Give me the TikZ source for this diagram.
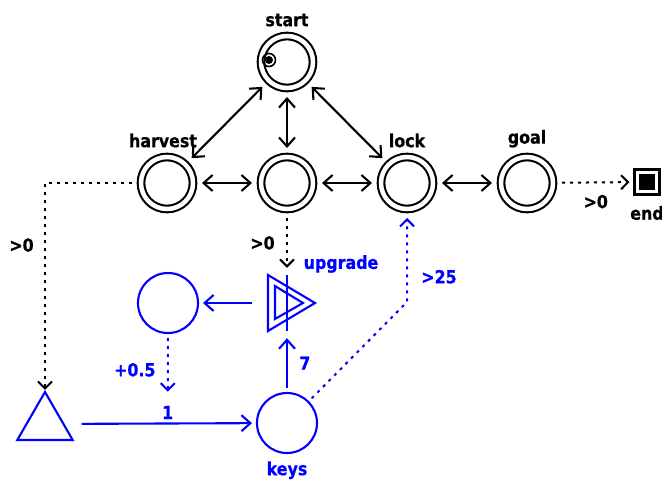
\documentclass[tikz,border=0pt]{standalone}
\usepackage{fontspec}
\setmainfont{DejaVu Sans}[FakeStretch=0.88, BoldFeatures={FakeBold=0.6}]
\usetikzlibrary{arrows.meta,shapes.geometric}

\tikzset{
  stnode/.style={circle, draw, double, double distance=4.5pt, line width=2.1pt,
    minimum size=52pt, inner sep=0pt, outer sep=9pt},
  pool/.style={circle, draw=blue, line width=2.1pt, minimum size=60pt,
    inner sep=0pt, outer sep=5pt},
  link/.style={line width=2.1pt,
    {Straight Barb[length=9pt,width=16pt]}-{Straight Barb[length=9pt,width=16pt]}},
  flow/.style={line width=2.1pt, -{Straight Barb[length=9pt,width=16pt]}},
  trig/.style={line width=2pt, dash pattern=on 3pt off 5pt,
    -{Straight Barb[length=7pt,width=14pt]}}
}

\begin{document}
\begin{tikzpicture}[x=1pt, y=-1pt, font=\bfseries\fontsize{18}{21}\selectfont,
    label distance=-3pt]
  \useasboundingbox (0,0) rectangle (662,482);

  % Estados
  \node[stnode, label={above:start}] (start) at (287,62) {};
  \node[stnode, label={[xshift=-4pt]above:harvest}] (harvest) at (167,183) {};
  \node[stnode] (mid) at (287,183) {};
  \node[stnode, label={above:lock}] (lock) at (407,183) {};
  \node[stnode, label={above:goal}] (goal) at (527,183) {};

  % Marca de inicio
  \draw[line width=1.6pt] ([shift={(-18,-2)}]start.center) circle[radius=6.5pt];
  \fill ([shift={(-18,-2)}]start.center) circle[radius=4pt];

  % Final
  \node[draw, line width=2.1pt, minimum size=25pt, inner sep=0pt, outer sep=5pt,
    label={[label distance=3pt]below:end}] (end) at (647,182) {};
  \node[fill, minimum size=16pt, inner sep=0pt] (endcore) at (end) {};

  % Conexiones entre estados
  \draw[link] (start) -- (harvest);
  \draw[link] (start) -- (mid);
  \draw[link] (start) -- (lock);
  \draw[link] (harvest) -- (mid);
  \draw[link] (mid) -- (lock);
  \draw[link] (lock) -- (goal);
  \draw[trig] (goal) -- node[below=8pt] (gtend) {>0} (end);

  % Recursos
  \node[pool] (bank) at (168,303) {};
  \node[pool, label={[blue, label distance=0pt]below:keys}] (keys) at (287,423) {};
  \node[regular polygon, regular polygon sides=3, draw=blue, line width=2.1pt,
    minimum size=64pt, inner sep=0pt] (src) at (45,424) {};

  % Convertidor
  \node[circle, minimum size=70pt, inner sep=0pt] (upg) at (287,303) {};
  \draw[blue, line width=2.1pt] ([shift={(-19,-28)}]upg.center)
    -- ([shift={(28,0)}]upg.center) -- ([shift={(-19,28)}]upg.center) -- cycle;
  \draw[blue, line width=2.1pt] ([shift={(-12,-17)}]upg.center)
    -- ([shift={(16,0)}]upg.center) -- ([shift={(-12,16)}]upg.center) -- cycle;
  \draw[blue, line width=2.1pt] ([shift={(0,-28)}]upg.center)
    -- ([shift={(0,28)}]upg.center);
  \node[blue] (upglbl) at (341,264) {upgrade};

  % Flujos
  \draw[flow, blue, shorten <=17pt] (src) -- node[pos=0.55, above] (rate) {1} (keys);
  \draw[flow, blue] (keys) -- node[right=8pt] (cost) {7} (upg);
  \draw[flow, blue] (upg) -- (bank);

  % Disparadores
  \draw[trig] (harvest.west) -| node[pos=0.65, left=7pt] (gtsrc) {>0} (src.north);
  \draw[trig] (mid) -- node[left=8pt] (gtupg) {>0} (upg);
  \draw[trig, blue, shorten >=10pt] (bank) -- node[left=8pt] (bonus) {+0.5} (rate);
  \coordinate (kink) at (407,302);
  \draw[trig, blue] (keys.north east) -- (kink)
    -- node[pos=0.3, right=10pt] (gtlock) {>25} (lock);
\end{tikzpicture}
\end{document}
